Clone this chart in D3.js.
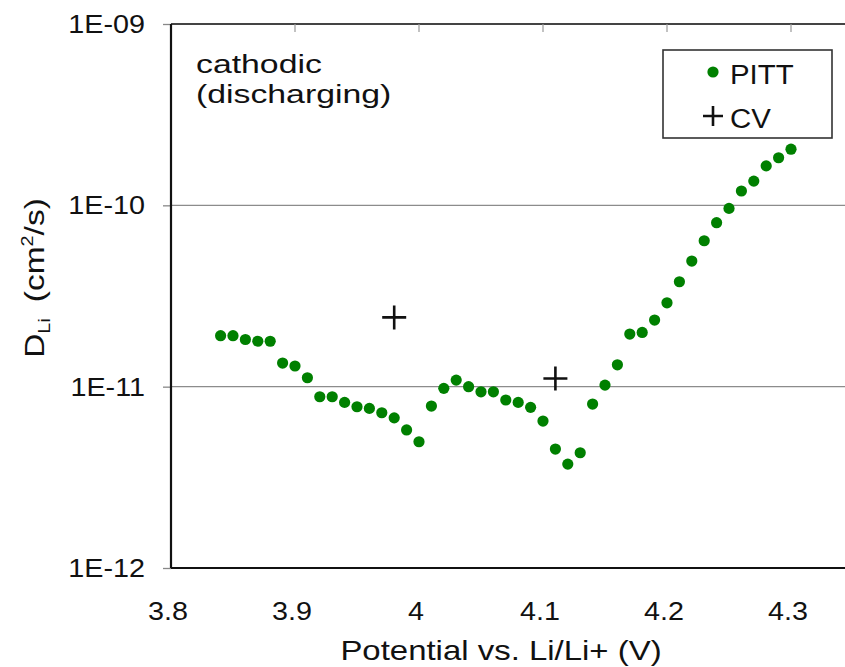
<!DOCTYPE html>
<html>
<head>
<meta charset="utf-8">
<script src="https://cdn.jsdelivr.net/npm/d3@7"></script>
<style>
  body { margin: 0; background: #fff; }
  text { font-family: Arial, "Liberation Sans", sans-serif; fill: #111; }
</style>
</head>
<body>
<svg width="845" height="667"></svg>
<script>
// data
var pittV = [3.84, 3.85, 3.86, 3.87, 3.88, 3.89, 3.90, 3.91, 3.92, 3.93,
  3.94, 3.95, 3.96, 3.97, 3.98, 3.99, 4.00, 4.01, 4.02, 4.03,
  4.04, 4.05, 4.06, 4.07, 4.08, 4.09, 4.10, 4.11, 4.12, 4.13,
  4.14, 4.15, 4.16, 4.17, 4.18, 4.19, 4.20, 4.21, 4.22, 4.23,
  4.24, 4.25, 4.26, 4.27, 4.28, 4.29, 4.30];
var pittD = [1.91e-11, 1.91e-11, 1.82e-11, 1.78e-11, 1.78e-11, 1.35e-11, 1.30e-11, 1.12e-11, 8.8e-12, 8.8e-12,
  8.19e-12, 7.75e-12, 7.59e-12, 7.18e-12, 6.73e-12, 5.77e-12, 4.97e-12, 7.82e-12, 9.79e-12, 1.087e-11,
  1.0e-11, 9.37e-12, 9.37e-12, 8.44e-12, 8.19e-12, 7.69e-12, 6.46e-12, 4.53e-12, 3.74e-12, 4.32e-12,
  8.02e-12, 1.02e-11, 1.32e-11, 1.95e-11, 1.99e-11, 2.33e-11, 2.90e-11, 3.79e-11, 4.93e-11, 6.38e-11,
  8.02e-11, 9.62e-11, 1.20e-10, 1.36e-10, 1.65e-10, 1.83e-10, 2.04e-10];
var cvV = [3.98, 4.11];
var cvD = [2.41e-11, 1.11e-11];

var xTicks = [3.8, 3.9, 4.0, 4.1, 4.2, 4.3, 4.4];
var xTickLabels = [3.8, 3.9, 4.0, 4.1, 4.2, 4.3]; // 4.4 falls off the picture
var yTicks = [1e-12, 1e-11, 1e-10, 1e-9];
var yTickLabels = ["1E-12", "1E-11", "1E-10", "1E-09"];

// svg + layout
var svg = d3.select("svg");
var margin = { top: 24, left: 171 };
var width = 744;   // plot runs past the right edge of the picture
var height = 544;

var x = d3.scaleLinear().domain([3.8, 4.4]).range([0, width]);
var y = d3.scaleLog().domain([1e-12, 1e-9]).range([height, 0]);

var chart = svg.append("g")
  .attr("transform", "translate(" + margin.left + "," + margin.top + ")");

// stretched text helper (the source picture is squashed sideways)
function label(parent, tx, ty, str, size, anchor, sx) {
  return parent.append("text")
    .attr("transform", "translate(" + tx + "," + ty + ") scale(" + (sx || 1.15) + ",1)")
    .attr("text-anchor", anchor || "start")
    .style("font-size", size + "px")
    .text(str);
}

// gridlines
chart.selectAll(".grid")
  .data([1e-11, 1e-10])
  .enter()
  .append("line")
  .attr("x1", 0).attr("x2", width)
  .attr("y1", function(d) { return y(d); })
  .attr("y2", function(d) { return y(d); })
  .attr("stroke", "#8c8c8c")
  .attr("stroke-width", 1.3);

// top border
chart.append("line")
  .attr("x1", 0).attr("x2", width)
  .attr("y1", 0).attr("y2", 0)
  .attr("stroke", "#444").attr("stroke-width", 2);

// little ticks hanging from the top border
chart.selectAll(".tticks")
  .data(xTicks.slice(1))
  .enter()
  .append("line")
  .attr("x1", function(d) { return x(d); })
  .attr("x2", function(d) { return x(d); })
  .attr("y1", 0).attr("y2", 8)
  .attr("stroke", "#999").attr("stroke-width", 1.2);

// y axis
var yAxis = d3.axisLeft(y)
  .tickValues(yTicks)
  .tickSize(8)
  .tickFormat(function(d, i) { return yTickLabels[i]; });

var gy = chart.append("g").call(yAxis);
gy.select(".domain").remove();
gy.selectAll(".tick line").attr("stroke", "#888").attr("stroke-width", 1.3);
gy.selectAll(".tick text").remove();
yTicks.forEach(function(d, i) {
  label(chart, -26, y(d) + 9, yTickLabels[i], 25, "end");
});

// x axis
var xAxis = d3.axisBottom(x)
  .tickValues(xTicks)
  .tickSize(0)
  .tickFormat(d3.format(""));
var gx = chart.append("g")
  .attr("transform", "translate(0," + height + ")")
  .call(xAxis);
gx.select(".domain").remove();
gx.selectAll(".tick text").remove();
xTickLabels.forEach(function(d) {
  label(chart, x(d) - 3, height + 52, d3.format("")(d), 25, "middle");
});

// axis lines
chart.append("line")
  .attr("x1", 0).attr("x2", width)
  .attr("y1", height).attr("y2", height)
  .attr("stroke", "#111").attr("stroke-width", 2.2);
chart.append("line")
  .attr("x1", 0).attr("x2", 0)
  .attr("y1", 0).attr("y2", height)
  .attr("stroke", "#111").attr("stroke-width", 2.2);

// PITT points
chart.selectAll(".pitt")
  .data(pittV)
  .enter()
  .append("circle")
  .attr("cx", function(d) { return x(d); })
  .attr("cy", function(d, i) { return y(pittD[i]); })
  .attr("r", 5.6)
  .attr("fill", "#008000");

// CV crosses
function cross(g, cx, cy, half) {
  g.append("path")
    .attr("d", "M" + (cx - half) + "," + cy + "H" + (cx + half) +
               "M" + cx + "," + (cy - half) + "V" + (cy + half))
    .attr("stroke", "#111")
    .attr("stroke-width", 2.6)
    .attr("fill", "none");
}
cvV.forEach(function(d, i) {
  cross(chart, x(d), y(cvD[i]), 12);
});

// annotation
label(svg, 196, 73, "cathodic", 26, "start", 1.3);
label(svg, 196, 103, "(discharging)", 26, "start", 1.3);

// legend
svg.append("rect")
  .attr("x", 663).attr("y", 50)
  .attr("width", 169).attr("height", 88)
  .attr("fill", "#fff")
  .attr("stroke", "#333")
  .attr("stroke-width", 1.6);
svg.append("circle")
  .attr("cx", 713).attr("cy", 72)
  .attr("r", 5.6)
  .attr("fill", "#008000");
label(svg, 730, 84, "PITT", 28, "start", 1.05);
cross(svg, 713, 116, 10);
label(svg, 730, 128, "CV", 28, "start", 1.05);

// axis titles
label(svg, 501, 660, "Potential vs. Li/Li+ (V)", 27, "middle", 1.22);

var yt = svg.append("text")
  .attr("transform", "translate(44,278) rotate(-90) scale(1.24,1)")
  .attr("text-anchor", "middle")
  .style("font-size", "27px");
yt.append("tspan").text("D");
yt.append("tspan").attr("dy", 6).style("font-size", "16px").text("Li");
yt.append("tspan").attr("dy", -6).text("\u2009 (cm");
yt.append("tspan").attr("dy", -11).style("font-size", "16px").text("2");
yt.append("tspan").attr("dy", 11).text("/s)");
</script>
</body>
</html>
